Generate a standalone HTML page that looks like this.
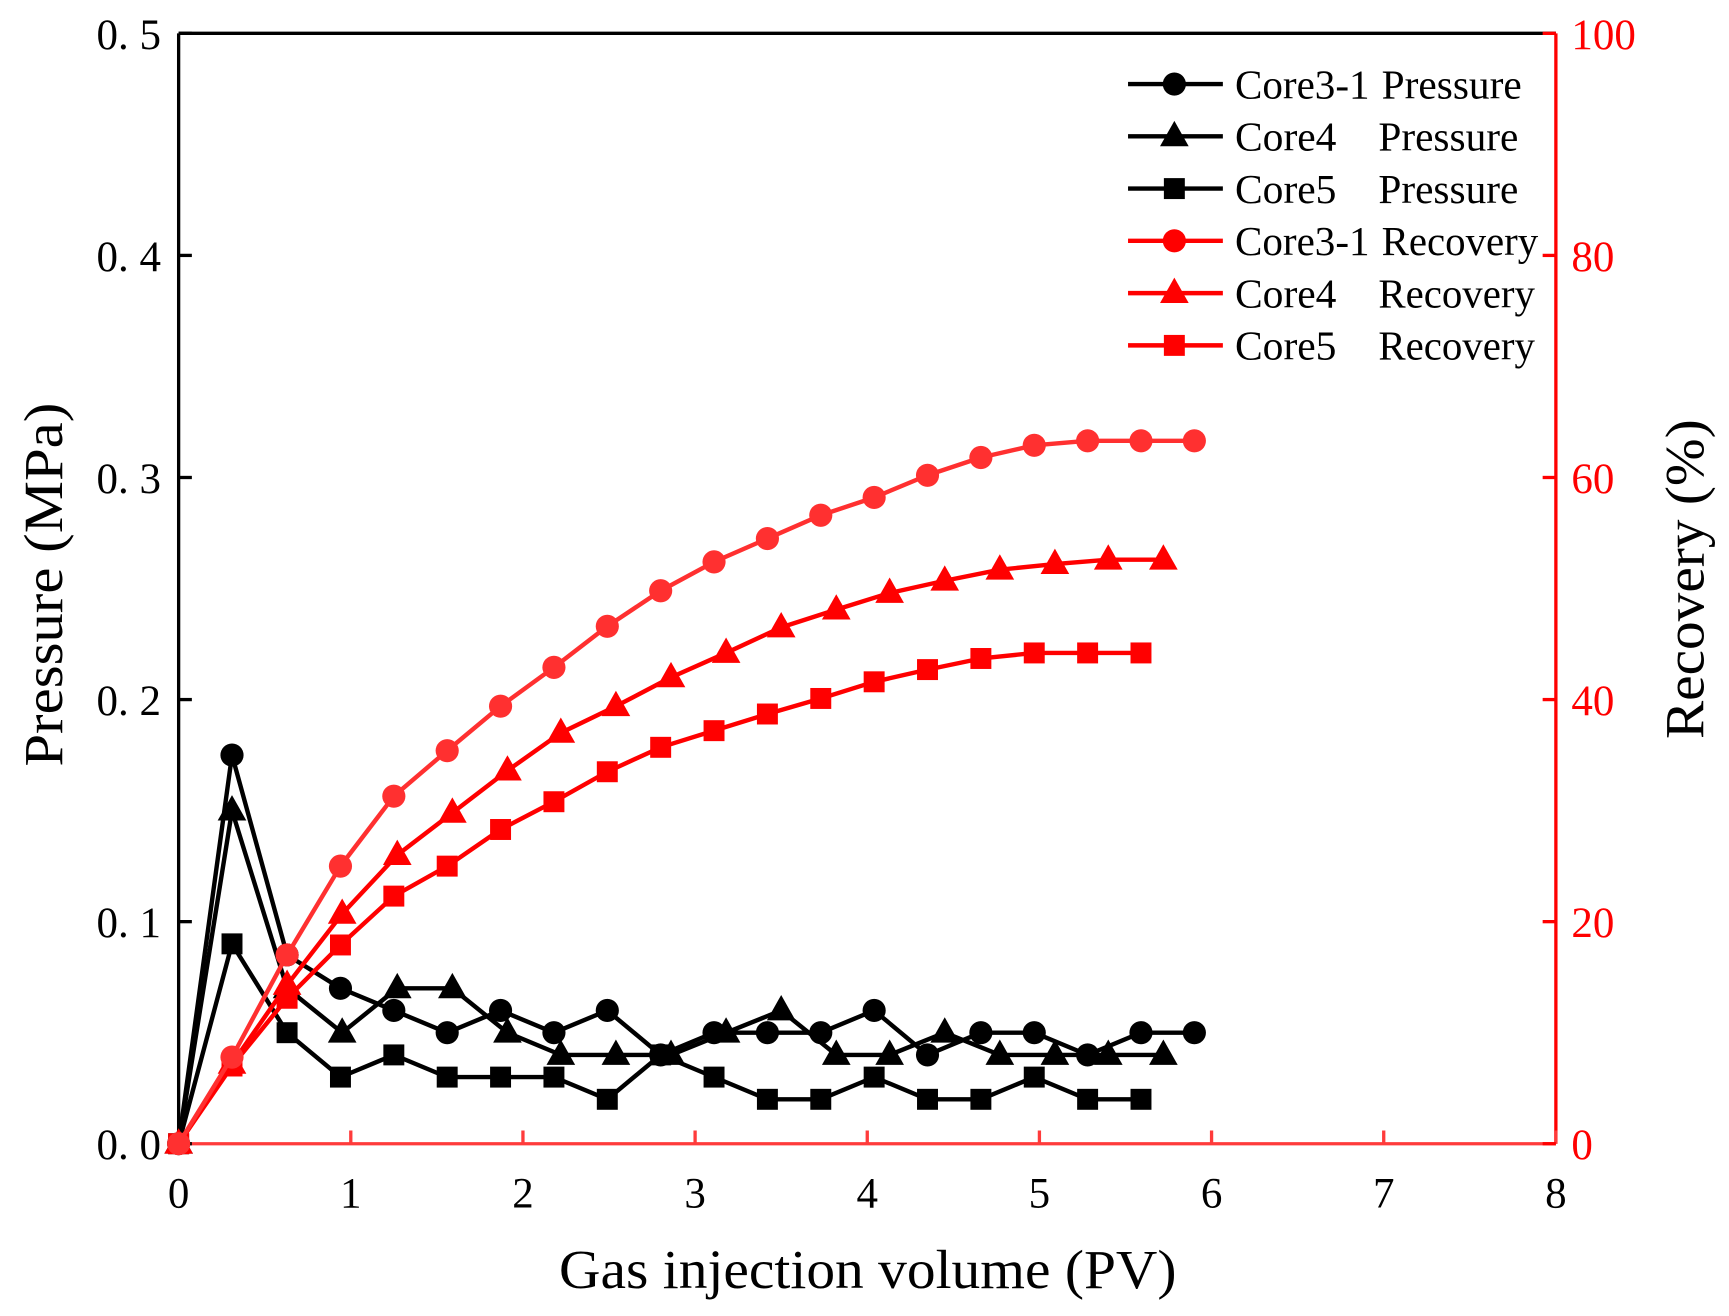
<!DOCTYPE html>
<html><head><meta charset="utf-8"><style>
html,body{margin:0;padding:0;background:#fff;}
svg{display:block;font-family:"Liberation Serif","Noto Serif CJK SC",serif;}
</style></head><body>
<svg id="chart" width="1729" height="1316" viewBox="0 0 1568 1193" xmlns="http://www.w3.org/2000/svg">
<g id="axes"></g>
<g id="series"></g>
<g id="legend"></g>
<text x="507" y="1168" font-size="50" textLength="560" lengthAdjust="spacingAndGlyphs">Gas injection volume (PV)</text>
<text transform="translate(56,695) rotate(-90)" font-size="50" textLength="330" lengthAdjust="spacingAndGlyphs">Pressure (MPa)</text>
<text transform="translate(1545,670) rotate(-90)" font-size="50" textLength="290" lengthAdjust="spacingAndGlyphs">Recovery (%)</text>
</svg>
<script>
const xTicks=[0,1,2,3,4,5,6,7,8];
const pTicks=[0,0.1,0.2,0.3,0.4,0.5];
const pTickLabels=["0. 0","0. 1","0. 2","0. 3","0. 4","0. 5"];
const rTicks=[0,20,40,60,80,100];
const xA=[0,0.31,0.63,0.94,1.25,1.56,1.87,2.18,2.49,2.80,3.11,3.42,3.73,4.04,4.35,4.66,4.97,5.28,5.59,5.90];
const xB=[0,0.31,0.63,0.95,1.27,1.59,1.91,2.22,2.54,2.86,3.18,3.50,3.82,4.13,4.45,4.77,5.09,5.40,5.72];
const xC=[0,0.31,0.63,0.94,1.25,1.56,1.87,2.18,2.49,2.80,3.11,3.42,3.73,4.04,4.35,4.66,4.97,5.28,5.59];
const pressA=[0,0.175,0.085,0.07,0.06,0.05,0.06,0.05,0.06,0.04,0.05,0.05,0.05,0.06,0.04,0.05,0.05,0.04,0.05,0.05];
const pressB=[0,0.15,0.07,0.05,0.07,0.07,0.05,0.04,0.04,0.04,0.05,0.06,0.04,0.04,0.05,0.04,0.04,0.04,0.04];
const pressC=[0,0.09,0.05,0.03,0.04,0.03,0.03,0.03,0.02,0.04,0.03,0.02,0.02,0.03,0.02,0.02,0.03,0.02,0.02];
const recA=[0,7.8,17,25,31.3,35.4,39.4,42.9,46.6,49.8,52.4,54.5,56.6,58.2,60.2,61.8,62.9,63.3,63.3,63.3];
const recB=[0,7.2,14.3,20.7,26,29.8,33.6,37,39.4,42,44.2,46.5,48.1,49.6,50.7,51.7,52.2,52.6,52.6];
const recC=[0,7,13.1,17.9,22.3,25,28.3,30.8,33.5,35.7,37.2,38.7,40.1,41.6,42.7,43.7,44.2,44.2,44.2];

const X0=162,X1=1411,Y0=1037,Y1=30;
const sx=v=>X0+(X1-X0)*v/8;
const sp=v=>Y0-(Y0-Y1)*v/0.5;
const sr=v=>Y0-(Y0-Y1)*v/100;
const NS="http://www.w3.org/2000/svg";
function mk(tag,attrs,parent){const e=document.createElementNS(NS,tag);for(const k in attrs)e.setAttribute(k,attrs[k]);parent.appendChild(e);return e;}
const axes=document.getElementById('axes'),series=document.getElementById('series'),legend=document.getElementById('legend');
const RED="#ff0000";

let e;
e=mk('line',{x1:X0,y1:Y1,x2:X1,y2:Y1,stroke:"#000","stroke-width":3},axes);

e=mk('line',{x1:X0,y1:Y1,x2:X0,y2:Y0,stroke:"#000","stroke-width":3},axes);

e=mk('line',{x1:X1,y1:Y1,x2:X1,y2:Y0,stroke:RED,"stroke-width":3},axes);

e=mk('line',{x1:X0,y1:Y0,x2:X1,y2:Y0,stroke:"#ff3b3b","stroke-width":3},axes);


xTicks.forEach(v=>{
 e=mk('line',{x1:sx(v),y1:Y0,x2:sx(v),y2:Y0-12,stroke:"#ff3b3b","stroke-width":3},axes);
 
 e=mk('text',{x:sx(v),y:Y0+58,"font-size":39,"text-anchor":"middle"},axes);e.textContent=v;
 
});
pTicks.forEach((v,i)=>{
 e=mk('line',{x1:X0,y1:sp(v),x2:X0+12,y2:sp(v),stroke:"#000","stroke-width":3},axes);
 
 e=mk('text',{x:X0-16,y:sp(v)+14,"font-size":39,"text-anchor":"end"},axes);e.textContent=pTickLabels[i];
 
});
rTicks.forEach(v=>{
 e=mk('line',{x1:X1,y1:sr(v),x2:X1-12,y2:sr(v),stroke:RED,"stroke-width":3},axes);
 
 e=mk('text',{x:X1+14,y:sr(v)+14,"font-size":39,fill:RED},axes);e.textContent=v;
 
});

function marker(shape,cx,cy,col,parent){
 let m;
 if(shape==='circle')m=mk('circle',{cx:cx,cy:cy,r:10.5,fill:col},parent);
 else if(shape==='square')m=mk('rect',{x:cx-9.5,y:cy-9.5,width:19,height:19,fill:col},parent);
 else m=mk('polygon',{points:`${cx},${cy-14} ${cx-13},${cy+9} ${cx+13},${cy+9}`,fill:col},parent);
 return m;
}
function drawSeries(name,xs,ys,scale,col,shape){
 const g=mk('g',{},series);
 
 const pts=xs.map((x,i)=>sx(x)+","+scale(ys[i])).join(" ");
 const l=mk('polyline',{points:pts,fill:"none",stroke:col,"stroke-width":4,"stroke-linejoin":"round"},g);
 
 xs.forEach((x,i)=>{const m=marker(shape,sx(x),scale(ys[i]),col,g);
  });
}
drawSeries('core5-pressure',xC,pressC,sp,"#000",'square');
drawSeries('core4-pressure',xB,pressB,sp,"#000",'triangle');
drawSeries('core3-1-pressure',xA,pressA,sp,"#000",'circle');
drawSeries('core5-recovery',xC,recC,sr,RED,'square');
drawSeries('core4-recovery',xB,recB,sr,RED,'triangle');
drawSeries('core3-1-recovery',xA,recA,sr,"#ff3030",'circle');

const legFirst=["Core3-1","Core4","Core5","Core3-1","Core4","Core5"];
const legSecond=["Pressure","Pressure","Pressure","Recovery","Recovery","Recovery"];
const legShapes=['circle','triangle','square','circle','triangle','square'];
const legCols=["#000","#000","#000",RED,RED,RED];
legFirst.forEach((n,i)=>{
 const y=76+i*47.4;
 const g=mk('g',{},legend);
 
 mk('line',{x1:1023,y1:y,x2:1109,y2:y,stroke:legCols[i],"stroke-width":4},g);
 marker(legShapes[i],1065,y,legCols[i],g);
 const w1=(n==="Core3-1")?122:92;
 const t=mk('text',{x:1120,y:y+13,"font-size":37,textLength:w1,lengthAdjust:"spacingAndGlyphs"},g);t.textContent=n;
 const x2=(n==="Core3-1")?1253:1250;
 const w2=legSecond[i]==="Pressure"?(n==="Core3-1"?127:127):142;
 const t2=mk('text',{x:x2,y:y+13,"font-size":37,textLength:w2,lengthAdjust:"spacingAndGlyphs"},g);t2.textContent=legSecond[i];
});
</script>
</body></html>
